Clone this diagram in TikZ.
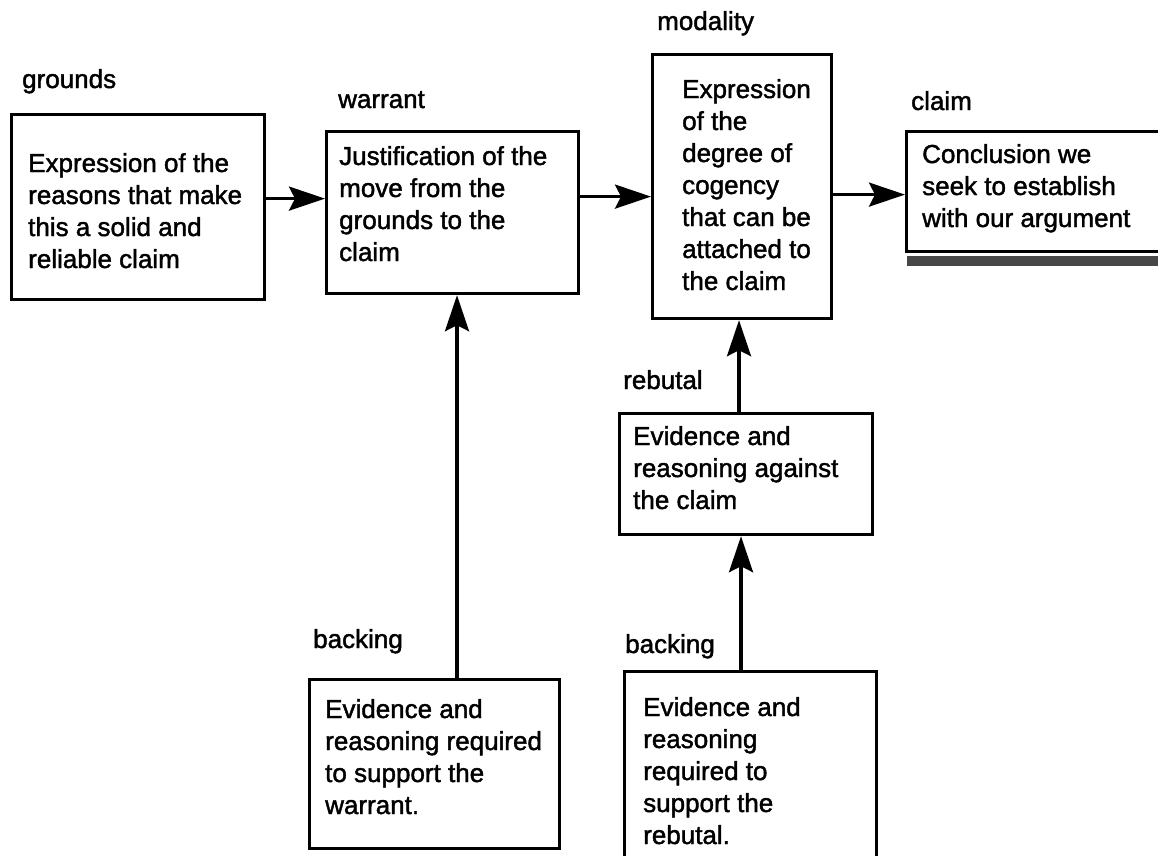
\documentclass[tikz,border=0pt]{standalone}
\usepackage{fontspec}
\setmainfont{Liberation Sans}[UprightFeatures={FakeBold=1.6}]
\usetikzlibrary{arrows.meta,calc}

\tikzset{
  box/.style={draw, line width=3.2pt, rectangle, inner sep=0pt, anchor=north west},
  body/.style={anchor=base west, inner sep=0pt, font=\fontsize{26}{32}\selectfont},
  tag/.style={anchor=base west, inner sep=0pt, font=\fontsize{26}{32}\selectfont},
  arr/.style={line width=3.4pt, -{Stealth[length=36pt,width=24pt,inset=6pt]}},
}
\newcommand{\lines}[1]{\parbox[t]{320pt}{\raggedright #1}}

\begin{document}
\begin{tikzpicture}[x=1pt, y=-1pt]
  \useasboundingbox[fill=white] (0,0) rectangle (1158,855);

  % boxes (top-left corner, size)
  \node[box, minimum width=253pt, minimum height=185pt] (grounds)  at (10,113) {};
  \node[box, minimum width=252pt, minimum height=162pt] (warrant)  at (325,130) {};
  \node[box, minimum width=179pt, minimum height=264pt] (modality) at (651,53) {};
  \node[box, minimum width=265pt, minimum height=120pt] (claim)    at (905,130) {};
  \node[box, minimum width=253pt, minimum height=121pt] (rebutal)  at (618,412) {};
  \node[box, minimum width=250pt, minimum height=169pt] (backingW) at (308,678) {};
  \node[box, minimum width=252pt, minimum height=200pt] (backingR) at (623,670) {};

  % shaded bar under the claim box
  \fill[black!72] ($(claim.south west)+(2,3)$) rectangle ($(claim.south east)+(0,13)$);

  % headings
  \node[tag] (tGrounds)  at (22,88)   {grounds};
  \node[tag] (tWarrant)  at (338,108) {warrant};
  \node[tag] (tModality) at (657,30)  {modality};
  \node[tag] (tClaim)    at (911,110) {claim};
  \node[tag] (tRebutal)  at (623,389) {rebutal};
  \node[tag] (tBackingW) at (313,648) {backing};
  \node[tag] (tBackingR) at (625,653) {backing};

  % box texts
  \node[body] (xGrounds) at (28,172) {\lines{Expression of the\\reasons that make\\this a solid and\\reliable claim}};
  \node[body] (xWarrant) at (339,165) {\lines{Justification of the\\move from the\\grounds to the\\claim}};
  \node[body] (xModality) at (682,98) {\lines{Expression\\of the\\degree of\\cogency\\that can be\\attached to\\the claim}};
  \node[body] (xClaim) at (922,163) {\lines{Conclusion we\\seek to establish\\with our argument}};
  \node[body] (xRebutal) at (633,445) {\lines{Evidence and\\reasoning against\\the claim}};
  \node[body] (xBackingW) at (325,718) {\lines{Evidence and\\reasoning required\\to support the\\warrant.}};
  \node[body] (xBackingR) at (643,716) {\lines{Evidence and\\reasoning\\required to\\support the\\rebutal.}};

  % horizontal connectors
  \coordinate (gw) at ($(grounds.east)+(0,-8.5)$);
  \draw[arr] (gw) -- (gw -| warrant.west);
  \coordinate (wm) at ($(warrant.east)+(0,-16)$);
  \draw[arr] (wm) -- (wm -| modality.west);
  \coordinate (mc) at ($(modality.east)+(0,8)$);
  \draw[arr] (mc) -- (mc -| claim.west);

  % vertical connectors
  \coordinate (bw) at ($(backingW.north west)+(149,0)$);
  \draw[arr] (bw) -- (bw |- warrant.south);
  \coordinate (rm) at ($(rebutal.north west)+(121,0)$);
  \draw[arr] (rm) -- (rm |- modality.south);
  \coordinate (br) at ($(backingR.north west)+(118,0)$);
  \draw[arr] (br) -- (br |- rebutal.south);
\end{tikzpicture}
\end{document}
